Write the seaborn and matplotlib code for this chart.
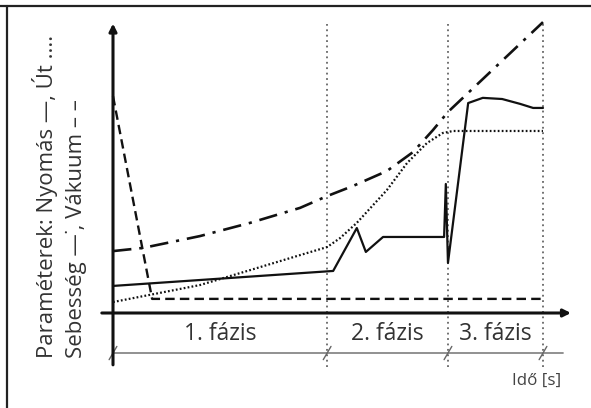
import matplotlib
matplotlib.use("Agg")
import matplotlib.pyplot as plt
from matplotlib.lines import Line2D
import seaborn as sns
import pandas as pd

# ---- data (time t: 0..100 s, parameter value: 0..100 arbitrary units) ----
pressure_t = [0, 51.2, 56.7, 58.8, 62.8, 77.0, 77.4, 77.9, 82.6, 86.0, 90.5, 94.7, 97.7, 100]
pressure_v = [9.4, 14.6, 29.5, 21.2, 26.4, 26.4, 44.8, 17.4, 72.9, 74.7, 74.3, 72.6, 71.2, 71.2]

path_t = [0, 20.2, 31.9, 43.5, 49.8, 52.8, 56.7, 63.7, 68.4, 73.0, 76.7, 79.1, 100]
path_v = [3.8, 9.7, 14.9, 20.1, 22.9, 26.0, 31.3, 42.7, 52.1, 59.0, 62.5, 63.2, 63.2]

speed_t = [0, 7.0, 20.2, 31.9, 43.5, 49.8, 55.8, 63.7, 69.8, 74.4, 77.9, 100]
speed_v = [21.5, 22.6, 26.7, 31.3, 36.5, 40.6, 44.1, 49.3, 55.9, 63.5, 69.8, 101.0]

vacuum_t = [0, 9.1, 100]
vacuum_v = [75.3, 4.9, 4.9]

phase_bounds = [0, 49.8, 77.9, 100]
phase_labels = ["1. fázis", "2. fázis", "3. fázis"]
ylabel_lines = ["Paraméterek: Nyomás \u2014, Út ....", "Sebesség \u2014\u02d9, Vákuum \u2013 \u2013"]
xlabel = "Idő [s]"

sns.set_theme(style="white")
plt.rcParams["font.family"] = ["Open Sans", "DejaVu Sans"]

W, H = 591, 408
fig = plt.figure(figsize=(W / 100, H / 100), dpi=100)
ax = fig.add_axes([0, 0, 1, 1])
# pixel mapping: t = (px-113)/4.3 ; v = (313-py)/2.88
ax.set_xlim((0 - 113) / 4.3, (W - 113) / 4.3)
ax.set_ylim((313 - H) / 2.88, (313 - 0) / 2.88)
ax.axis("off")

# phase boundary dotted verticals
for b in phase_bounds[1:]:
    ax.plot([b, b], [-18.8, 100.3], color="#666666", lw=1.3, ls=(0, (1, 2)), zorder=1)

# series
def draw(t, v, ls, lw):
    df = pd.DataFrame({"t": t, "v": v})
    sns.lineplot(data=df, x="t", y="v", ax=ax, sort=False, estimator=None,
                 color="#111111", lw=lw, ls=ls, zorder=3)

draw(vacuum_t, vacuum_v, (0, (4, 2.2)), 1.7)
draw(path_t, path_v, (0, (0.8, 1.0)), 1.6)
draw(speed_t, speed_v, (0, (7, 3, 1.2, 3)), 1.9)
draw(pressure_t, pressure_v, "-", 1.6)

# axes with arrows
ax.annotate("", xy=(106.5, 0), xytext=(-2.6, 0),
            arrowprops=dict(arrowstyle="-|>", lw=2.2, color="#111111", mutation_scale=11, shrinkA=0, shrinkB=0))
ax.annotate("", xy=(0, 100.5), xytext=(0, -18.0),
            arrowprops=dict(arrowstyle="-|>", lw=2.2, color="#111111", mutation_scale=11, shrinkA=0, shrinkB=0))

# dimension line with slash ticks
ax.plot([0, 104.7], [-13.9, -13.9], color="#888888", lw=1.3, zorder=2)
for b in phase_bounds:
    ax.plot([b - 0.9, b + 0.9], [-16.2, -11.6], color="#666666", lw=1.0, zorder=2)

# phase labels
for i, lab in enumerate(phase_labels):
    ax.text((phase_bounds[i] + phase_bounds[i + 1]) / 2, -7.3, lab, ha="center", va="center",
            fontsize=16.5, color="#333333")

ax.text(98.4, -23.6, xlabel, ha="center", va="center", fontsize=12.2, color="#444444")

# rotated y label (two lines)
ax.text(-15.8, -15.6, ylabel_lines[0], rotation=90, rotation_mode="anchor",
        ha="left", va="center", fontsize=16, color="#333333")
ax.text(-8.6, -15.6, ylabel_lines[1], rotation=90, rotation_mode="anchor",
        ha="left", va="center", fontsize=16, color="#333333")

# frame (top and left edges)
fig.add_artist(Line2D([0, 1], [1 - 6 / H, 1 - 6 / H], color="#222222", lw=1.6, transform=fig.transFigure))
fig.add_artist(Line2D([7 / W, 7 / W], [0, 1 - 6 / H], color="#222222", lw=1.6, transform=fig.transFigure))

fig.savefig("out.png", dpi=100)
